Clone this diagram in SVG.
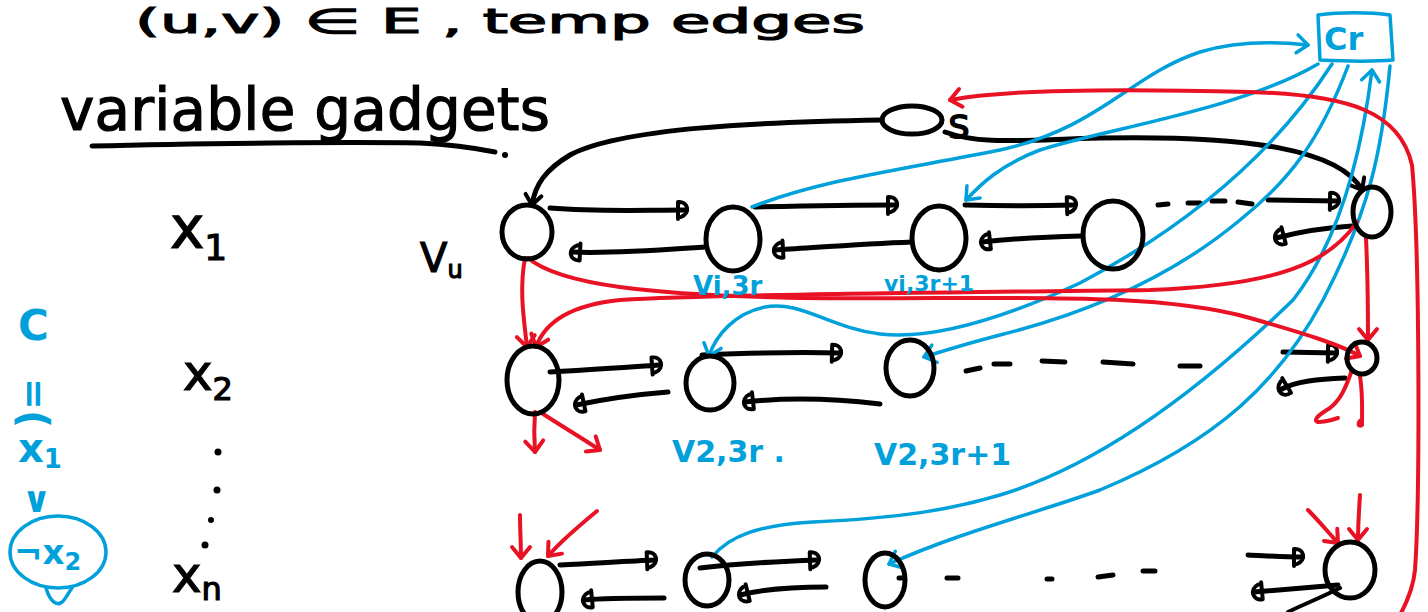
<svg xmlns="http://www.w3.org/2000/svg" width="1428" height="612" viewBox="0 0 1428 612">
<style>
.k{fill:none;stroke:#000;stroke-width:5;stroke-linecap:round;stroke-linejoin:round}
.kt{fill:none;stroke:#000;stroke-width:4;stroke-linecap:round}
.r{fill:none;stroke:#e81224;stroke-width:4;stroke-linecap:round;stroke-linejoin:round}
.b{fill:none;stroke:#00a0da;stroke-width:3.5;stroke-linecap:round;stroke-linejoin:round}
.n{fill:none;stroke:#000;stroke-width:5}
.t{font-family:"DejaVu Sans","Liberation Sans",sans-serif;fill:#000;stroke:#000;stroke-width:1.2}
.bt{font-family:"DejaVu Sans","Liberation Sans",sans-serif;fill:#00a0da;font-weight:bold}
</style>
<defs>
<marker id="kd" markerUnits="userSpaceOnUse" viewBox="-4 -12 20 24" markerWidth="20" markerHeight="24" refX="8" refY="0" orient="auto">
<path d="M0,-8 L0,9 M0,-8 C10,-9 13,3 3,7" fill="none" stroke="#000" stroke-width="4" stroke-linecap="round"/>
</marker>
<marker id="rh" markerUnits="userSpaceOnUse" viewBox="-14 -12 18 24" markerWidth="18" markerHeight="24" refX="0" refY="0" orient="auto">
<path d="M-11,-9 L0,0 L-11,9" fill="none" stroke="#e81224" stroke-width="4" stroke-linecap="round" stroke-linejoin="round"/>
</marker>
<marker id="bh" markerUnits="userSpaceOnUse" viewBox="-14 -12 18 24" markerWidth="18" markerHeight="24" refX="0" refY="0" orient="auto">
<path d="M-11,-9 L0,0 L-11,9" fill="none" stroke="#00a0da" stroke-width="3.5" stroke-linecap="round" stroke-linejoin="round"/>
</marker>
<marker id="kh" markerUnits="userSpaceOnUse" viewBox="-14 -12 18 24" markerWidth="18" markerHeight="24" refX="0" refY="0" orient="auto">
<path d="M-10,-8 L0,0 L-10,8" fill="none" stroke="#000" stroke-width="4" stroke-linecap="round" stroke-linejoin="round"/>
</marker>
</defs>
<rect width="1428" height="612" fill="#fff"/>

<!-- heading at the top -->
<text class="t" x="135" y="33" font-size="34" textLength="730" lengthAdjust="spacingAndGlyphs">(u,v) ∈ E , temp edges</text>

<!-- title -->
<g id="title">
<text class="t" x="60" y="130" font-size="58" textLength="490">variable gadgets</text>
<path class="k" d="M92,146 C200,143 350,142 420,143 C460,145 480,149 495,152"/>
<circle cx="505" cy="155" r="3" fill="#000"/>
</g>

<!-- left labels -->
<g id="label-x1"><text class="t" x="170" y="248" font-size="58">x<tspan font-size="36" dy="12">1</tspan></text></g>
<g id="label-vu"><text class="t" x="420" y="272" font-size="40">V<tspan font-size="24" dy="6">u</tspan></text></g>
<g id="label-x2"><text class="t" x="183" y="390" font-size="50">x<tspan font-size="32" dy="10">2</tspan></text></g>
<g id="label-dots">
<circle cx="218" cy="452" r="3.5" fill="#000"/>
<circle cx="217" cy="490" r="3.5" fill="#000"/>
<circle cx="211" cy="520" r="3" fill="#000"/>
<circle cx="205" cy="545" r="3.5" fill="#000"/>
</g>
<g id="label-xn"><text class="t" x="172" y="592" font-size="50">x<tspan font-size="32" dy="8">n</tspan></text></g>

<!-- blue clause, written vertically -->
<g id="clause">
<text class="bt" x="18" y="340" font-size="42">C</text>
<text class="bt" font-size="38" transform="translate(22,378) rotate(90)">=</text>
<text class="bt" font-size="40" transform="translate(20,410) rotate(90)">(</text>
<text class="bt" x="18" y="462" font-size="40">x<tspan font-size="26" dy="6">1</tspan></text>
<text class="bt" x="22" y="512" font-size="36">∨</text>
<ellipse cx="58" cy="552" rx="48" ry="36" fill="none" stroke="#00a0da" stroke-width="3.5"/>
<text class="bt" x="14" y="564" font-size="34">¬x<tspan font-size="24" dy="6">2</tspan></text>
<path class="b" d="M46,588 C50,602 58,608 64,600 C68,595 70,590 72,588"/>
</g>

<!-- connectors -->
<g id="connectors">
<path class="k" marker-end="url(#kh)" d="M882,120 C760,122 620,128 570,155 C545,170 535,185 532,205"/>
<path class="k" marker-end="url(#kh)" d="M945,132 C980,145 1020,140 1100,138 C1250,135 1340,150 1362,190"/>

<path class="k" marker-end="url(#kd)" d="M550,208 C600,212 640,210 686,210"/>
<path class="k" marker-end="url(#kd)" d="M705,247 C660,250 610,254 572,252"/>
<path class="k" marker-end="url(#kd)" d="M755,207 C800,206 860,205 896,205"/>
<path class="k" marker-end="url(#kd)" d="M912,242 C860,244 810,248 775,250"/>
<path class="k" marker-end="url(#kd)" d="M965,205 C1000,206 1040,206 1075,205"/>
<path class="k" marker-end="url(#kd)" d="M1082,236 C1040,237 1000,240 982,242"/>
<path class="k" d="M1158,205 L1168,204 M1188,203 L1200,203 M1212,201 L1225,201 M1238,202 L1252,204"/>
<path class="k" marker-end="url(#kd)" d="M1268,200 L1338,201"/>
<path class="k" marker-end="url(#kd)" d="M1352,226 C1320,228 1295,233 1276,238"/>

<path class="k" marker-end="url(#kd)" d="M550,372 C590,370 630,367 660,365"/>
<path class="k" marker-end="url(#kd)" d="M668,392 C630,395 600,400 576,405"/>
<path class="k" marker-end="url(#kd)" d="M702,355 C750,353 800,352 840,353"/>
<path class="k" marker-end="url(#kd)" d="M880,404 C830,398 780,398 745,402"/>
<path class="k" d="M966,371 L980,368 M994,364 L1010,364 M1042,361 L1065,362 M1103,362 L1133,364 M1180,366 L1200,366"/>
<path class="k" marker-end="url(#kd)" d="M1283,352 L1336,353"/>
<path class="k" marker-end="url(#kd)" d="M1345,378 C1320,379 1295,381 1280,390"/>

<path class="k" marker-end="url(#kd)" d="M560,565 C600,563 630,561 655,560"/>
<path class="k" marker-end="url(#kd)" d="M664,598 C630,598 605,598 584,600"/>
<path class="k" marker-end="url(#kd)" d="M700,568 C740,563 790,561 818,560"/>
<path class="k" marker-end="url(#kd)" d="M826,587 C790,587 760,590 740,595"/>
<path class="k" d="M899,578 L902,578 M947,578 L958,578 M1047,579 L1052,579 M1098,577 L1113,575 M1143,571 L1155,571"/>
<path class="k" marker-end="url(#kd)" d="M1248,555 C1270,556 1285,557 1302,557"/>
<path class="k" marker-end="url(#kd)" d="M1338,585 C1300,588 1275,590 1254,592"/>
<path class="kt" d="M1340,588 C1320,598 1300,606 1288,612"/>

<path class="b" marker-end="url(#bh)" d="M752,207 C820,180 900,170 1000,150 C1100,128 1130,75 1200,52 C1240,40 1280,42 1308,45"/>
<path class="b" marker-end="url(#bh)" d="M1318,64 C1240,110 1100,130 1040,150 C1000,165 980,185 966,200"/>
<path class="b" marker-end="url(#bh)" d="M1332,64 C1270,160 1180,230 1080,283 C1000,320 930,340 880,334 C830,328 800,300 765,307 C735,313 716,335 709,356"/>
<path class="b" marker-end="url(#bh)" d="M1348,66 C1320,140 1290,180 1240,220 C1180,270 1100,310 1000,335 C965,344 940,352 924,357"/>
<path class="b" marker-end="url(#bh)" d="M712,557 C730,535 760,525 813,522 C900,518 950,510 1000,495 C1100,465 1200,390 1293,300 C1340,240 1362,150 1372,70"/>
<path class="b" marker-end="url(#bh)" d="M1390,66 C1382,150 1370,210 1323,300 C1280,380 1220,440 1100,490 C1040,512 960,532 889,564"/>

<path class="r" marker-end="url(#rh)" d="M1400,615 C1406,604 1413,590 1415,570 C1420,500 1420,250 1412,165 C1400,112 1350,95 1250,92 C1100,88 1000,90 950,100"/>
<path class="r" marker-end="url(#rh)" d="M525,258 C519,290 524,320 527,347"/>
<path class="r" marker-end="url(#rh)" d="M528,258 C560,285 650,295 800,298 C1000,300 1150,290 1250,318 C1310,335 1340,345 1360,356"/>
<path class="r" marker-end="url(#rh)" d="M1357,222 C1330,262 1280,285 1150,290 C900,293 700,295 620,300 C570,305 545,322 536,347"/>
<path class="r" marker-end="url(#rh)" d="M1366,238 C1368,280 1368,310 1368,340"/>
<path class="r" marker-end="url(#rh)" d="M535,412 C534,425 534,438 535,452"/>
<path class="r" marker-end="url(#rh)" d="M540,412 C560,425 580,437 600,450"/>
<path class="r" d="M1360,376 C1363,395 1362,412 1362,425 C1357,428 1358,420 1362,420"/>
<path class="r" d="M1352,370 C1345,390 1340,400 1330,408 C1320,414 1312,420 1318,422 C1325,422 1332,420 1338,418"/>
<path class="r" marker-end="url(#rh)" d="M520,515 C520,530 521,545 521,558"/>
<path class="r" marker-end="url(#rh)" d="M597,511 C580,525 562,540 548,556"/>
<path class="r" marker-end="url(#rh)" d="M1360,495 C1359,510 1358,525 1358,540"/>
<path class="r" marker-end="url(#rh)" d="M1308,510 C1318,520 1328,532 1338,543"/>
</g>

<!-- nodes -->
<g id="node-s"><ellipse class="n" cx="912" cy="120" rx="30" ry="14"/><text class="t" x="948" y="138" font-size="42">s</text></g>
<g id="node-cr"><path d="M1318,15 C1340,12 1370,12 1390,15 L1393,60 C1370,62 1340,61 1320,60 Z" fill="none" stroke="#00a0da" stroke-width="3.5" stroke-linejoin="round"/><text class="bt" x="1324" y="50" font-size="32">Cr</text></g>

<g id="node-v1-1"><ellipse class="n" cx="527" cy="232" rx="25" ry="27"/></g>
<g id="node-v1-2"><ellipse class="n" cx="733" cy="239" rx="27" ry="32"/></g>
<g id="node-v1-3"><ellipse class="n" cx="939" cy="238" rx="27" ry="32"/></g>
<g id="node-v1-4"><ellipse class="n" cx="1113" cy="235" rx="30" ry="34"/></g>
<g id="node-v1-last"><ellipse class="n" cx="1372" cy="212" rx="19" ry="25"/></g>

<g id="node-v2-1"><ellipse class="n" cx="533" cy="380" rx="26" ry="34"/></g>
<g id="node-v2-2"><ellipse class="n" cx="710" cy="383" rx="24" ry="27"/></g>
<g id="node-v2-3"><ellipse class="n" cx="910" cy="368" rx="24" ry="28"/></g>
<g id="node-v2-last"><ellipse class="n" cx="1362" cy="358" rx="15" ry="16"/></g>

<g id="node-vn-1"><ellipse class="n" cx="540" cy="592" rx="22" ry="31"/></g>
<g id="node-vn-2"><ellipse class="n" cx="707" cy="580" rx="22" ry="26"/></g>
<g id="node-vn-3"><ellipse class="n" cx="885" cy="580" rx="20" ry="27"/></g>
<g id="node-vn-last"><ellipse class="n" cx="1350" cy="570" rx="25" ry="28"/></g>

<g id="label-vi3r"><text class="bt" x="693" y="295" font-size="26">Vi,3r</text></g>
<g id="label-vi3r1"><text class="bt" x="884" y="291" font-size="22">vi,3r+1</text></g>
<g id="label-v23r"><text class="bt" x="672" y="462" font-size="30">V2,3r .</text></g>
<g id="label-v23r1"><text class="bt" x="874" y="465" font-size="30">V2,3r+1</text></g>
</svg>
